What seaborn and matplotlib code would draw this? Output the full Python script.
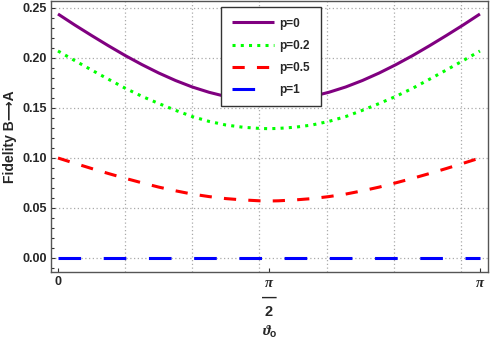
import numpy as np
import pandas as pd
import matplotlib
matplotlib.use("Agg")
import matplotlib.pyplot as plt
from matplotlib.ticker import MultipleLocator, FixedLocator
import seaborn as sns

# --- dados ---
theta = [0.0, 0.125, 0.25, 0.375, 0.5, 0.625, 0.75, 0.875, 1.0, 1.125,
         1.25, 1.375, 1.5, 1.5708, 1.6416, 1.7666, 1.8916, 2.0166, 2.1416,
         2.2666, 2.3916, 2.5166, 2.6416, 2.7666, 2.8916, 3.0166, 3.1416]
fid_p0 = [0.244, 0.233, 0.2225, 0.2123, 0.2025, 0.1934, 0.185, 0.1775,
          0.171, 0.1657, 0.1615, 0.1587, 0.1572, 0.157, 0.1572, 0.1587,
          0.1615, 0.1657, 0.171, 0.1775, 0.185, 0.1934, 0.2025, 0.2123,
          0.2225, 0.233, 0.244]
fid_p02 = [0.207, 0.1974, 0.188, 0.1788, 0.1698, 0.1617, 0.1545, 0.1477,
           0.1414, 0.1366, 0.133, 0.1308, 0.1296, 0.1293, 0.1296, 0.1308,
           0.133, 0.1366, 0.1414, 0.1477, 0.1545, 0.1617, 0.1698, 0.1788,
           0.188, 0.1974, 0.207]
fid_p05 = [0.100, 0.0947, 0.0895, 0.0845, 0.0797, 0.0752, 0.0709, 0.0672,
           0.0639, 0.0614, 0.0594, 0.0581, 0.0572, 0.057, 0.0572, 0.0581,
           0.0594, 0.0614, 0.0639, 0.0672, 0.0709, 0.0752, 0.0797, 0.0845,
           0.0895, 0.0947, 0.100]
fid_p1 = [0.0] * 27

labels = ["p=0", "p=0.2", "p=0.5", "p=1"]
series = [fid_p0, fid_p02, fid_p05, fid_p1]
colors = ["#800080", "#00ff00", "#ff0000", "#0000ff"]
styles = ["-", (0, (1, 1.7)), (0, (4, 4)), (0, (7.4, 7.4))]

xticks = [0, np.pi / 2, np.pi]
xtick_labels = ["0", "$\\pi$\n—\n2", "$\\pi$"]
xgrid = [0.5, 1.0, 1.5, 2.0, 2.5, 3.0]

sns.set_style("white")
plt.rcParams["font.family"] = ["Liberation Sans", "DejaVu Sans"]
plt.rcParams["font.weight"] = "bold"
plt.rcParams["mathtext.fontset"] = "custom"
plt.rcParams["mathtext.it"] = "Liberation Serif:italic:bold"
plt.rcParams["mathtext.rm"] = "Liberation Sans:bold"
plt.rcParams["mathtext.bf"] = "Liberation Sans:bold"

fig = plt.figure(figsize=(4.9, 3.4), dpi=100)
ax = fig.add_axes([51 / 490, 68 / 340, 437 / 490, 271 / 340])

for lab, vals, col, ls in zip(labels, series, colors, styles):
    df = pd.DataFrame({"theta": theta, "F": vals})
    sns.lineplot(data=df, x="theta", y="F", color=col, lw=2.2, ls=ls,
                 label=lab, ax=ax, zorder=3)
for ln in ax.get_lines():
    ln.set_dash_capstyle("butt")
    ln.set_solid_capstyle("butt")

ax.set_xlim(-0.052, np.pi + 0.06)

ax.xaxis.set_major_locator(FixedLocator(xticks))
ax.set_xticklabels(xtick_labels)
ax.xaxis.set_minor_locator(FixedLocator(xgrid))
ax.yaxis.set_major_locator(MultipleLocator(0.05))
ax.yaxis.set_minor_locator(MultipleLocator(0.01))
ax.set_ylim(-0.014, 0.257)
ax.set_yticks(ax.get_yticks())
ax.set_yticklabels([f"{v:.2f}" for v in ax.get_yticks()])
ax.set_ylim(-0.014, 0.257)

ax.tick_params(axis="both", which="major", direction="in", length=3,
               width=0.8, color="#333333", labelsize=9, pad=3)
ax.tick_params(axis="y", which="minor", direction="in", length=1.8,
               width=0.8, color="#333333")
ax.tick_params(axis="x", which="minor", length=0)
ax.tick_params(left=True, bottom=True, which="both")
for t in ax.get_xticklabels() + ax.get_yticklabels():
    t.set_fontweight("bold")
for t in ax.get_xticklabels()[1:]:
    t.set_fontsize(10.5)
    t.set_linespacing(1.05)

ax.grid(axis="y", which="major", color="#aaaaaa", ls=(0, (1, 2)), lw=0.9)
ax.grid(axis="x", which="minor", color="#aaaaaa", ls=(0, (1, 2)), lw=0.9)
ax.grid(axis="x", which="major", visible=False)
ax.set_axisbelow(True)

for sp in ax.spines.values():
    sp.set_visible(True)
    sp.set_color("#555555")
    sp.set_linewidth(1.0)

ax.set_xlabel("$\\vartheta_{\\mathrm{o}}$", fontsize=10.5, labelpad=3)
ax.set_ylabel("Fidelity B⟶A", fontsize=10, fontweight="bold", labelpad=4)

leg = ax.legend(loc="upper left", bbox_to_anchor=(221 / 490, 1 - 7 / 340),
                bbox_transform=fig.transFigure, fontsize=8.5,
                frameon=True, fancybox=False, framealpha=1,
                edgecolor="#333333", handlelength=3.6, handletextpad=0.45,
                labelspacing=0.85, borderpad=0.9, borderaxespad=0)
leg.get_frame().set_linewidth(1.0)
for t in leg.get_texts():
    t.set_fontweight("bold")
leg.set_zorder(5)

fig.savefig("out.png", dpi=100)
